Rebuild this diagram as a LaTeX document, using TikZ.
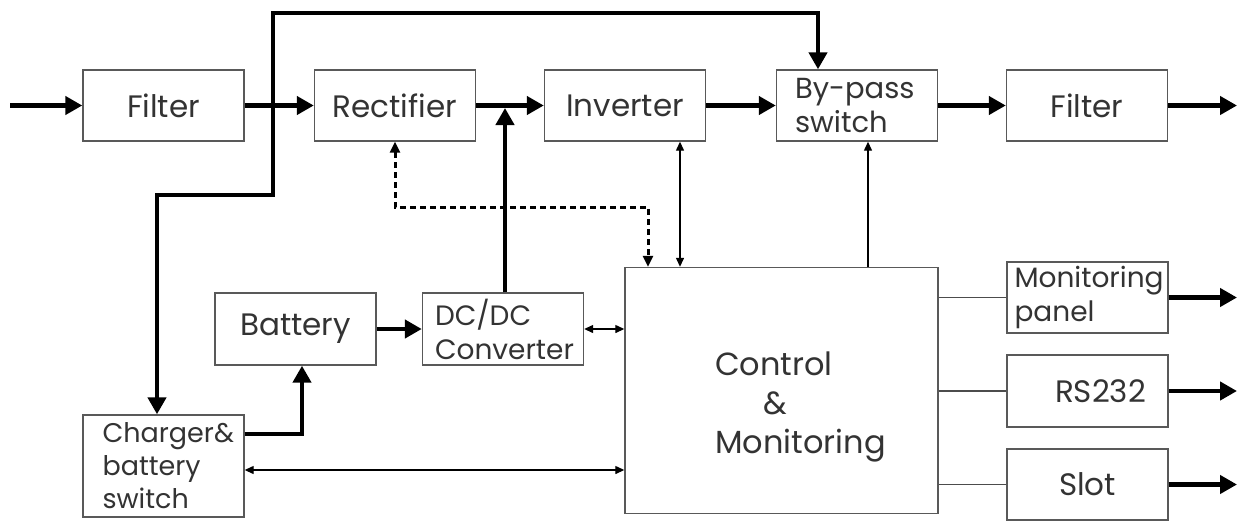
\documentclass[tikz,border=0pt]{standalone}
\usepackage{fontspec}
\setmainfont{Poppins}
\usetikzlibrary{arrows.meta}

\tikzset{
  block/.style={draw=black!65, line width=1.4pt, rectangle, inner sep=0pt,
    minimum width=161pt, minimum height=71pt, text=black!80,
    font=\fontsize{31}{37}\selectfont},
  power/.style={line width=4.5pt, -{Triangle[length=17pt,width=18pt]}},
  signal/.style={line width=1.3pt, {Triangle[length=9pt,width=8pt]}-{Triangle[length=9pt,width=8pt]}},
  sense/.style={line width=3pt, dash pattern=on 6pt off 4pt,
    {Triangle[length=11pt,width=10pt]}-{Triangle[length=11pt,width=10pt]}},
  wire/.style={line width=1.3pt, black!70}
}

\begin{document}
\begin{tikzpicture}[x=1pt,y=-1pt]
  \useasboundingbox (0,0) rectangle (1239,523);

  % main power chain
  \node[block] (filterin)  at (163.5,105.5) {Filter};
  \node[block] (rect)      at (395,105.5)   {Rectifier};
  \node[block] (inv)       at (625,105.5)   {Inverter};
  \node[block, text width=124pt, align=left,
        font=\fontsize{29}{34}\selectfont] (bypass) at (857,105.5) {\mbox{By-pass}\\switch};
  \node[block] (filterout) at (1087,105.5)  {Filter};

  % battery side
  \node[block, minimum height=72pt] (batt) at (295.5,329) {Battery};
  \node[block, minimum height=72pt, text width=136pt, align=left,
        font=\fontsize{28}{34}\selectfont] (dcdc) at (503,329) {DC/DC\\Converter};
  \node[block, minimum height=102pt, text width=122pt, align=left,
        font=\fontsize{27}{33}\selectfont] (charger) at (163.5,466) {Charger\&\\battery\\switch};

  % control and its outputs
  \node[block, minimum width=313pt, minimum height=246pt] (ctrl) at (781.5,390.5) {};
  \node[text=black!80, align=left, inner sep=0pt, anchor=west,
        font=\fontsize{32}{39}\selectfont] (ctrltext) at (715,407) {Control\\\hspace*{48pt}\&\\Monitoring};
  \node[block, text width=146pt, align=left,
        font=\fontsize{28}{34}\selectfont] (panel) at (1087.5,297.5) {Monitoring\\panel};
  \node[block, minimum height=72pt] (rs)   at (1087.5,391)   {\hspace{26pt}RS232};
  \node[block] (slot) at (1087.5,484.5) {Slot};

  % helper points
  \coordinate (in)   at (10,105.5);
  \coordinate (out)  at (1237,105.5);
  \coordinate (jct)  at (273,105.5);   % branch of the input line
  \coordinate (top)  at (818,13);
  \coordinate (low)  at (157,195);
  \coordinate (dsh)  at (648,207);
  \coordinate (ic)   at (680,200);
  \coordinate (bc)   at (868,200);
  \coordinate (cb)   at (302,434);
  \coordinate (cc)   at (300,470);
  \coordinate (dj)   at (505,108);

  % power flow
  \draw[power] (in) -- (filterin);
  \foreach \a/\b in {filterin/rect, rect/inv, inv/bypass, bypass/filterout}{%
    \draw[power] (\a) -- (\b);
  }
  \draw[power] (filterout) -- (out);
  \draw[power] (jct) -- (jct |- top) -- (top) -- (top |- bypass.north);
  \draw[power] (jct) -- (jct |- low) -- (low) -- (low |- charger.north);
  \draw[power] (dj |- dcdc.north) -- (dj);
  \draw[power] (batt) -- (dcdc);
  \draw[power] (cb -| charger.east) -- (cb) -- (cb |- batt.south);

  % signals
  \draw[sense] (rect.south) -- (rect.south |- dsh) -- (dsh) -- (dsh |- ctrl.north);
  \draw[signal] (ic |- inv.south) -- (ic |- ctrl.north);
  \draw[line width=1.3pt, -{Triangle[length=9pt,width=8pt]}] (bc |- ctrl.north) -- (bc |- bypass.south);
  \draw[signal] (dcdc) -- (dcdc -| ctrl.west);
  \draw[signal] (cc -| charger.east) -- (cc -| ctrl.west);

  % outputs of the control unit
  \foreach \n in {panel, rs, slot}{%
    \draw[wire] (ctrl.east |- \n) -- (\n);
    \draw[power] (\n.east) -- (\n.east -| out);
  }
\end{tikzpicture}
\end{document}
